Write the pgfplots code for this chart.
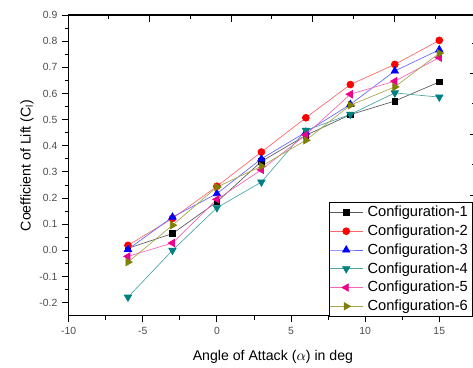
\documentclass[border=0pt]{standalone}
\usepackage{pgfplots}
\pgfplotsset{compat=1.18}
\usepackage{fontspec}
\setmainfont{Liberation Sans}
\definecolor{cteal}{HTML}{008080}
\definecolor{colive}{HTML}{808000}
\begin{document}
\begin{tikzpicture}
\begin{axis}[
  scale only axis, width=305.7pt, height=225.5pt,
  xmin=-10, xmax=17.5, ymin=-0.25, ymax=0.9,
  xtick={-4.55,0.97,6.45,12.0},
  minor xtick={-7.31,-1.79,3.71,9.2,14.74},
  ytick={-0.023,0.21,0.444,0.676},
  minor ytick={0.094,0.327,0.56,0.792},
  xtick pos=right, ytick pos=right,
  xtick align=inside, ytick align=inside,
  major tick length=5pt, minor tick length=3pt,
  xticklabels={}, yticklabels={},
  axis line style={white, opacity=0},
  major tick style={draw=black, line width=0.7pt, opacity=1},
  minor tick style={draw=black, line width=0.7pt, opacity=1},
]
\end{axis}
\begin{axis}[
  scale only axis, width=305.7pt, height=225.5pt,
  xmin=-10, xmax=17.5, ymin=-0.25, ymax=0.9,
  xtick={-10,-5,0,5,10,15},
  ytick={-0.2,-0.1,0,0.1,0.2,0.3,0.4,0.5,0.6,0.7,0.8,0.9},
  minor x tick num=1, minor y tick num=1,
  tick align=outside, xtick pos=bottom, ytick pos=left,
  major tick length=5pt, minor tick length=3pt,
  axis line style={line width=0.9pt},
  every tick/.style={black, line width=0.7pt},
  ticklabel style={font=\fontsize{7.8}{9}\selectfont, text=black!70},
  /pgf/number format/assume math mode=true,
  yticklabel style={/pgf/number format/.cd, fixed, fixed zerofill, precision=1},
  xlabel={Angle of Attack ($\alpha$) in deg},
  ylabel={Coefficient of Lift (C\textsubscript{l})},
  label style={font=\fontsize{10.6}{12}\selectfont},
  xlabel style={at={(axis description cs:0.501,-0.136)}, anchor=center},
  ylabel style={at={(axis description cs:-0.1023,0.5)}, anchor=center, rotate=0},
  legend cell align=left,
  legend style={at={(axis description cs:0.639,0.379)}, anchor=north west,
    font=\fontsize{11}{12}\selectfont, draw=black, line width=0.6pt,
    inner xsep=0pt, inner ysep=1pt, row sep=0.6pt,
    nodes={inner xsep=3.5pt}},
  legend image code/.code={\draw[mark repeat=2,mark phase=2,#1] plot coordinates {(0cm,0cm) (0.43cm,0cm) (0.86cm,0cm)};},
  every axis plot/.append style={line width=0.5pt},
]
\addplot[color=black!65, mark=square*, mark size=2.1pt, mark options={fill=black, draw=black}]
 coordinates {(-6,0.008) (-3,0.064) (0,0.185) (3,0.34) (6,0.44) (9,0.519) (12,0.571) (15,0.644)};
\addlegendentry{Configuration-1}
\addplot[color=red!60, mark=*, mark size=2.6pt, mark options={fill=red, draw=red}]
 coordinates {(-6,0.019) (-3,0.122) (0,0.245) (3,0.376) (6,0.507) (9,0.634) (12,0.711) (15,0.803)};
\addlegendentry{Configuration-2}
\addplot[color=blue!60, mark=triangle*, mark size=3.2pt, mark options={fill=blue, draw=blue}]
 coordinates {(-6,0.004) (-3,0.127) (0,0.217) (3,0.35) (6,0.452) (9,0.558) (12,0.686) (15,0.767)};
\addlegendentry{Configuration-3}
\addplot[color=cteal!70, mark=triangle*, mark size=3.2pt, mark options={fill=cteal, draw=cteal, rotate=180}]
 coordinates {(-6,-0.179) (-3,0.0) (0,0.163) (3,0.261) (6,0.459) (9,0.52) (12,0.602) (15,0.586)};
\addlegendentry{Configuration-4}
\addplot[color=magenta!60, mark=triangle*, mark size=3.2pt, mark options={fill=magenta, draw=magenta, rotate=90}]
 coordinates {(-6,-0.023) (-3,0.028) (0,0.195) (3,0.308) (6,0.442) (9,0.597) (12,0.647) (15,0.737)};
\addlegendentry{Configuration-5}
\addplot[color=colive!70, mark=triangle*, mark size=3.2pt, mark options={fill=colive, draw=colive, rotate=-90}]
 coordinates {(-6,-0.045) (-3,0.096) (0,0.242) (3,0.322) (6,0.421) (9,0.555) (12,0.625) (15,0.754)};
\addlegendentry{Configuration-6}
\end{axis}
\pgfresetboundingbox
\path[use as bounding box] ([shift={(-51.5pt,-38.5pt)}]current axis.south west) rectangle ([shift={(303.2pt,11.25pt)}]current axis.north west);
\end{tikzpicture}
\end{document}
